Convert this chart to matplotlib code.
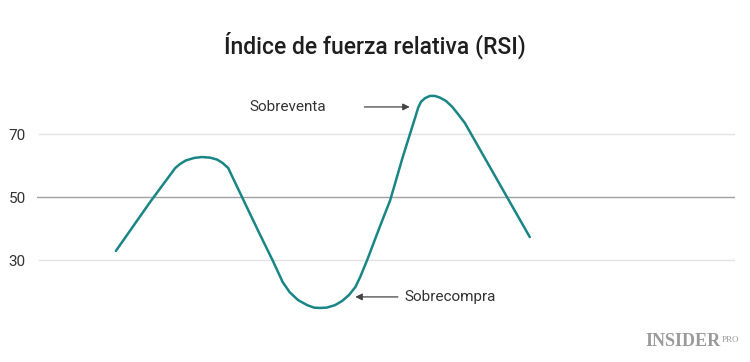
import matplotlib.pyplot as plt

plt.rcParams['font.family'] = ['Roboto', 'DejaVu Sans']

# curve (x: position 0-100 along the axis, y: RSI value)
period = [11.3, 16.2, 19.8, 20.5, 21.3, 22.5, 23.6, 24.8, 25.8, 26.6, 27.4,
          27.8, 29.5, 31.9, 33.8, 35.2, 36.2, 37.4, 38.7, 39.7, 40.5, 41.5,
          42.7, 43.7, 44.7, 45.6, 46.3, 47.3, 49.1, 50.6, 52.4, 54.2, 54.6,
          55.0, 55.6, 56.3, 57.0, 57.7, 58.6, 59.5, 60.3, 61.3, 70.6]
rsi = [32.9, 48.4, 59.2, 60.5, 61.6, 62.4, 62.7, 62.5, 61.9, 60.8, 59.2,
       57.3, 49.4, 38.3, 29.7, 23.0, 19.8, 17.3, 15.7, 14.9, 14.8, 14.9,
       15.7, 17.0, 18.9, 21.4, 24.6, 30.0, 40.5, 49.0, 62.7, 75.4, 78.3,
       80.2, 81.4, 82.1, 82.1, 81.6, 80.5, 78.6, 76.4, 73.5, 37.3]

levels = [30, 50, 70]
level_labels = ["30", "50", "70"]

# annotations: (text, text x, text y, arrow start x, arrow end x)
overbought = ("Sobreventa", 30.5, 78.6, 46.9, 53.4)
oversold = ("Sobrecompra", 52.7, 18.3, 51.7, 45.6)

teal = "#1a8585"
text_col = "#333333"

fig = plt.figure(figsize=(7.5, 3.62), dpi=100)
ax = fig.add_axes([37 / 750, 32 / 362, 698 / 750, 270 / 362])
ax.set_xlim(0, 100)
ax.set_ylim(7.8, 93.5)

for lv in levels:
    if lv == 50:
        ax.axhline(lv, color="#a0a0a0", lw=1.0, zorder=1)
    else:
        ax.axhline(lv, color="#e3e3e3", lw=1.0, xmin=0.003, zorder=1)

ax.plot(period, rsi, color=teal, lw=1.8, solid_joinstyle="round",
        solid_capstyle="round", zorder=3)

for name, tx, ty, x0, x1 in [overbought, oversold]:
    ax.text(tx, ty, name, fontsize=11, color=text_col, va="center",
            ha="left")
    ax.annotate("", xy=(x1, ty), xytext=(x0, ty),
                arrowprops=dict(arrowstyle="-|>", color="#444444", lw=0.9,
                                mutation_scale=10, shrinkA=0, shrinkB=0))

ax.set_yticks(levels)
ax.set_yticklabels(level_labels)
ax.tick_params(axis="y", length=0, pad=8, labelsize=11, labelcolor=text_col)
ax.set_xticks([])
for s in ax.spines.values():
    s.set_visible(False)

fig.text(0.5, 1 - 45 / 362, "Índice de fuerza relativa (RSI)", ha="center",
         va="center", fontsize=16.5, fontweight="medium", color="#1e1e1e")

# watermark
fig.text(721 / 750, 1 - 341 / 362, "INSIDER", ha="right", va="center",
         fontsize=13, fontweight="bold", color="#9a9a9a",
         family=["Liberation Serif", "DejaVu Serif"])
fig.text(722 / 750, 1 - 340 / 362, "PRO", ha="left", va="center",
         fontsize=6.5, color="#9a9a9a",
         family=["Liberation Serif", "DejaVu Serif"])

fig.savefig("out.png", dpi=100)
